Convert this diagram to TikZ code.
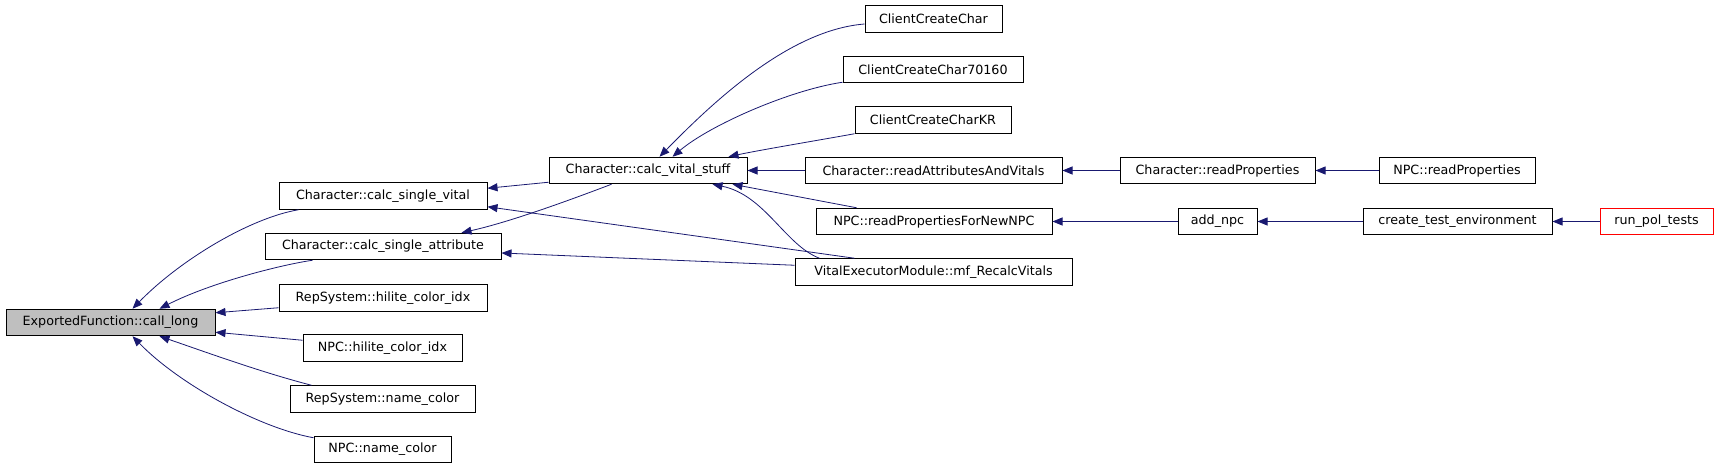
\documentclass[tikz,border=0pt]{standalone}
\usepackage{fontspec}
\setmainfont{DejaVu Sans}
\usetikzlibrary{arrows.meta,calc}
\definecolor{edgeblue}{HTML}{191970}
\definecolor{rootgray}{HTML}{BFBFBF}
\tikzset{
  fnbox/.style={draw=black, line width=1pt, fill=white, inner sep=0pt,
    minimum height=26.5pt, font=\fontsize{12.7}{15}\selectfont},
  rootbox/.style={fnbox, fill=rootgray},
  redbox/.style={fnbox, draw=red},
  call/.style={draw=edgeblue, line width=0.8pt,
    -{Triangle[length=10pt,width=8pt]}, fill=none},
}
\begin{document}
\begin{tikzpicture}[x=1pt,y=-1pt]
\useasboundingbox[fill=white] (0,0) rectangle (1717,468);
% nodes
\node[rootbox, minimum width=209pt] (cl) at (110.5,322.5) {ExportedFunction::call\_long};
\node[fnbox, minimum width=208pt] (csv) at (383,196) {Character::calc\_single\_vital};
\node[fnbox, minimum width=236pt] (csa) at (383,246.5) {Character::calc\_single\_attribute};
\node[fnbox, minimum width=208pt] (rhci) at (383,298) {RepSystem::hilite\_color\_idx};
\node[fnbox, minimum width=159pt] (nhci) at (382.5,348) {NPC::hilite\_color\_idx};
\node[fnbox, minimum width=185pt] (rnc) at (382.5,399) {RepSystem::name\_color};
\node[fnbox, minimum width=137pt] (nnc) at (382.5,449.5) {NPC::name\_color};
\node[fnbox, minimum width=198pt] (cvs) at (648,170.5) {Character::calc\_vital\_stuff};
\node[fnbox, minimum width=137pt] (ccc) at (933.5,19) {ClientCreateChar};
\node[fnbox, minimum width=180pt] (ccc7) at (933,69.5) {ClientCreateChar70160};
\node[fnbox, minimum width=156pt] (cckr) at (933,120) {ClientCreateCharKR};
\node[fnbox, minimum width=257pt] (rav) at (933.5,170.5) {Character::readAttributesAndVitals};
\node[fnbox, minimum width=236pt] (rpnn) at (934,221.5) {NPC::readPropertiesForNewNPC};
\node[fnbox, minimum width=277pt] (vem) at (933.5,272) {VitalExecutorModule::mf\_RecalcVitals};
\node[fnbox, minimum width=195pt] (crp) at (1217.5,170.5) {Character::readProperties};
\node[fnbox, minimum width=156pt] (nrp) at (1457,170.5) {NPC::readProperties};
\node[fnbox, minimum width=79pt] (addnpc) at (1217.5,221.5) {add\_npc};
\node[fnbox, minimum width=189pt] (cte) at (1457.5,221.5) {create\_test\_environment};
\node[redbox, minimum width=113pt] (rpt) at (1656.5,221.5) {run\_pol\_tests};
% edges into call_long
\draw[call] ($(csv.south west)+(20,0)$) .. controls (250,218) and (180,260) .. ($(cl.north west)+(127,0)$);
\draw[call] ($(csa.south west)+(48,0)$) .. controls (280,265) and (210,283) .. ($(cl.north west)+(154,0)$);
\draw[call] ($(rhci.south west)+(0,-4)$) -- ($(cl.north east)+(0,4)$);
\draw[call] ($(nhci.north west)+(0,6)$) -- ($(cl.south east)+(0,-4)$);
\draw[call] ($(rnc.north west)+(22,0)$) .. controls (260,372) and (200,350) .. ($(cl.south west)+(154,0)$);
\draw[call] ($(nnc.north west)+(0,2)$) .. controls (260,428) and (180,385) .. ($(cl.south west)+(127,0)$);
% edges into calc_single_vital / calc_single_attribute
\draw[call] ($(cvs.south west)+(0,-2)$) -- ($(csv.north east)+(0,6)$);
\draw[call] ($(cvs.south west)+(63,0)$) .. controls (570,200) and (510,222) .. ($(csa.north east)+(-40,0)$);
\draw[call] ($(vem.north west)+(60,0)$) -- ($(csv.south east)+(0,-3)$);
\draw[call] ($(vem.north west)+(0,7)$) -- ($(csa.east)+(0,6.5)$);
% edges into calc_vital_stuff
\draw[call] ($(ccc.west)+(0,5)$) .. controls (790,30) and (715,100) .. ($(cvs.north west)+(111,0)$);
\draw[call] ($(ccc7.south west)+(0,-1)$) .. controls (790,90) and (710,125) .. ($(cvs.north west)+(124,0)$);
\draw[call] (cckr.south west) .. controls (820,140) and (760,150) .. ($(cvs.north east)+(-19,0)$);
\draw[call] (rav.west) -- (cvs.east);
\draw[call] ($(rpnn.north west)+(41,0)$) -- ($(cvs.south east)+(-15,0)$);
\draw[call] ($(vem.north west)+(25,0)$) .. controls (785,245) and (765,195) .. ($(cvs.south east)+(-35,0)$);
% right side chains
\draw[call] (crp.west) -- (rav.east);
\draw[call] (nrp.west) -- (crp.east);
\draw[call] (addnpc.west) -- (rpnn.east);
\draw[call] (cte.west) -- (addnpc.east);
\draw[call] (rpt.west) -- (cte.east);
\end{tikzpicture}
\end{document}
